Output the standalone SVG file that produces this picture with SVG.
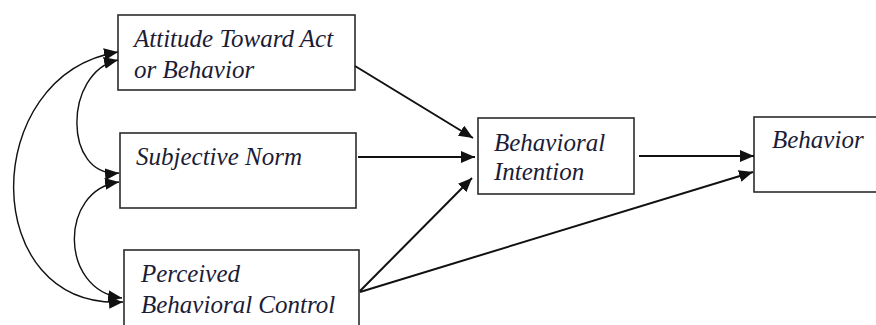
<svg xmlns="http://www.w3.org/2000/svg" width="876" height="325" viewBox="0 0 876 325">
<style>
.box{fill:#fff;stroke:#2b2b2b;stroke-width:1.6}
.lbl{font-family:"Liberation Serif","Times New Roman",serif;font-style:italic;font-size:25px;fill:#1c1c36}
.edge{fill:none;stroke:#111;stroke-width:2}
.curve{fill:none;stroke:#111;stroke-width:1.4}
</style>
<defs>
<marker id="ah" markerUnits="userSpaceOnUse" markerWidth="15" markerHeight="13" refX="14" refY="6" orient="auto-start-reverse">
<path d="M0,0 L14,6 L0,12 Z" fill="#111"/>
</marker>
</defs>
<rect width="876" height="325" fill="#fff"/>
<g id="attitude">
<rect class="box" x="118" y="15" width="237" height="75"/>
<text class="lbl" x="134" y="47">Attitude Toward Act</text>
<text class="lbl" x="134" y="78">or Behavior</text>
</g>
<g id="subjective-norm">
<rect class="box" x="120" y="133" width="236" height="75"/>
<text class="lbl" x="136" y="165">Subjective Norm</text>
</g>
<g id="perceived-control">
<rect class="box" x="124" y="250" width="235" height="82"/>
<text class="lbl" x="141" y="282">Perceived</text>
<text class="lbl" x="141" y="313">Behavioral Control</text>
</g>
<g id="intention">
<rect class="box" x="478" y="118" width="156" height="76"/>
<text class="lbl" x="494" y="151">Behavioral</text>
<text class="lbl" x="494" y="180">Intention</text>
</g>
<g id="behavior">
<rect class="box" x="754" y="117" width="130" height="75"/>
<text class="lbl" x="772" y="148">Behavior</text>
</g>
<g id="connectors">
<line class="edge" x1="355" y1="66" x2="473" y2="138" marker-end="url(#ah)"/>
<line class="edge" x1="358" y1="157" x2="475" y2="157" marker-end="url(#ah)"/>
<line class="edge" x1="360" y1="291" x2="472" y2="178" marker-end="url(#ah)"/>
<line class="edge" x1="639" y1="156" x2="754" y2="156" marker-end="url(#ah)"/>
<line class="edge" x1="360" y1="292" x2="753" y2="172" marker-end="url(#ah)"/>
<path class="curve" d="M118,52 C-22,75 -22,310 123,302" marker-start="url(#ah)" marker-end="url(#ah)"/>
<path class="curve" d="M118,60 C63,72 63,178 119,173" marker-start="url(#ah)" marker-end="url(#ah)"/>
<path class="curve" d="M119,182 C59,190 59,290 122,298" marker-start="url(#ah)" marker-end="url(#ah)"/>
</g>
</svg>
